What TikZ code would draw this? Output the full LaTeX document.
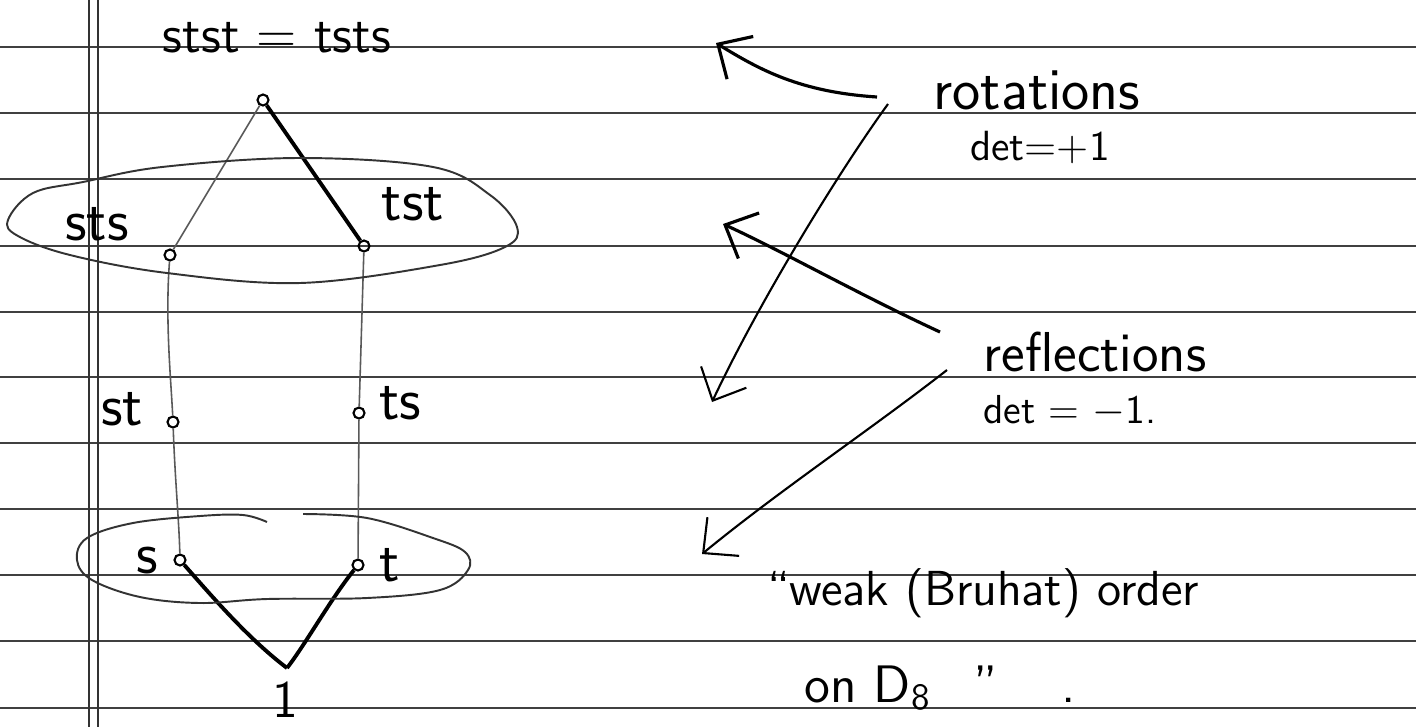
\documentclass[tikz,border=0pt]{standalone}
\usetikzlibrary{arrows.meta}
\begin{document}
\begin{tikzpicture}[x=0.01cm,y=-0.01cm,
  rule/.style={black!75,line width=0.7pt},
  marginline/.style={black!80,line width=0.5pt},
  vert/.style={circle,draw,line width=0.6pt,inner sep=0pt,minimum size=0.11cm},
  lab/.style={font=\sffamily\fontsize{17}{20}\selectfont,inner sep=0pt},
  strong/.style={line width=1.1pt},
  faint/.style={black!65,line width=0.45pt},
  loop/.style={black!80,line width=0.55pt},
  harrow/.style={line width=0.9pt,-{Straight Barb[length=2.6mm,width=5mm,line width=0.9pt]}},
  tharrow/.style={line width=0.6pt,-{Straight Barb[length=2.6mm,width=5mm,line width=0.6pt]}}]
\useasboundingbox (0,0) rectangle (1416,727);
\fill[white] (0,0) rectangle (1416,727);
% ruled paper
\foreach \y in {47,113,179,246,312,377,443,509,575,641,708}
  \draw[rule] (0,\y) -- (1416,\y);
\draw[marginline] (89,0) -- (89,727);
\draw[marginline] (98,0) -- (98,727);

% vertices
\node[vert] (stst) at (263,100) {};
\node[vert] (sts) at (170,255) {};
\node[vert] (tst) at (364,246) {};
\node[vert] (st) at (173,422) {};
\node[vert] (ts) at (359,413) {};
\node[vert] (s) at (180,560) {};
\node[vert] (t) at (358,565) {};
\coordinate (e) at (287,668);

% labels
\node[lab,font=\sffamily\fontsize{15}{18}\selectfont] (lstst) at (277,38) {stst = tsts};
\node[lab] (lsts) at (97,224) {sts};
\node[lab] (ltst) at (413,204) {tst};
\node[lab] (lst) at (122,409) {st};
\node[lab] (lts) at (400,403) {ts};
\node[lab] (ls) at (147,561) {s};
\node[lab] (lt) at (390,565) {t};
\node[lab,font=\sffamily\fontsize{15}{18}\selectfont] (le) at (285,700) {1};

% edges of the order
\draw[strong] (stst) -- (tst);
\draw[faint] (stst) -- (sts);
\draw[faint] (sts) .. controls (165,320) and (171,380) .. (st);
\draw[faint] (tst) -- (ts);
\draw[faint] (st) .. controls (175,480) and (179,520) .. (s);
\draw[faint] (ts) -- (t);
\draw[strong] (s) .. controls (215,600) and (250,640) .. (e);
\draw[strong] (t) .. controls (330,600) and (305,645) .. (e);

% groupings
\draw[loop] plot[smooth cycle,tension=0.6] coordinates {(8,220) (33,193) (83,182) (162,167) (300,158) (433,167) (490,195) (517,227) (505,247) (440,265) (300,283) (167,273) (70,255) (18,236)};
\draw[loop] plot[smooth,tension=0.6] coordinates {(267,522) (243,515) (200,516) (133,523) (87,538) (77,560) (92,580) (140,597) (200,603) (267,599) (367,598) (440,590) (468,570) (465,552) (433,538) (367,518) (303,514)};

% annotations
\node[lab,font=\sffamily\fontsize{17}{20}\selectfont] (rot) at (1037,90) {rotations};
\node[lab,font=\sffamily\fontsize{12}{14}\selectfont] (drot) at (1040,147) {det=+1};
\node[lab,font=\sffamily\fontsize{16}{19}\selectfont] (refl) at (1095,352) {reflections};
\node[lab,font=\sffamily\fontsize{11.5}{14}\selectfont] (drefl) at (1070,411) {det = $-$1.};
\node[lab,font=\sffamily\fontsize{14}{17}\selectfont] (weak) at (983,593) {``weak (Bruhat) order};
\node[lab,font=\sffamily\fontsize{15}{18}\selectfont] (onD) at (940,688) {on D\textsubscript{8}\hspace{0.8em}''\hspace{1.2em}.};

\coordinate (r1) at (877,97);
\coordinate (r1t) at (716,43);
\coordinate (r2) at (888,104);
\coordinate (r2t) at (712,402);
\coordinate (f1) at (940,332);
\coordinate (f1t) at (723,224);
\coordinate (f2) at (947,370);
\coordinate (f2t) at (702,554);
\draw[harrow] (r1) .. controls (800,92) and (760,70) .. (r1t);
\draw[tharrow] (r2) .. controls (840,170) and (760,300) .. (r2t);
\draw[harrow] (f1) .. controls (860,295) and (780,250) .. (f1t);
\draw[tharrow] (f2) .. controls (870,430) and (780,490) .. (f2t);
\end{tikzpicture}
\end{document}
